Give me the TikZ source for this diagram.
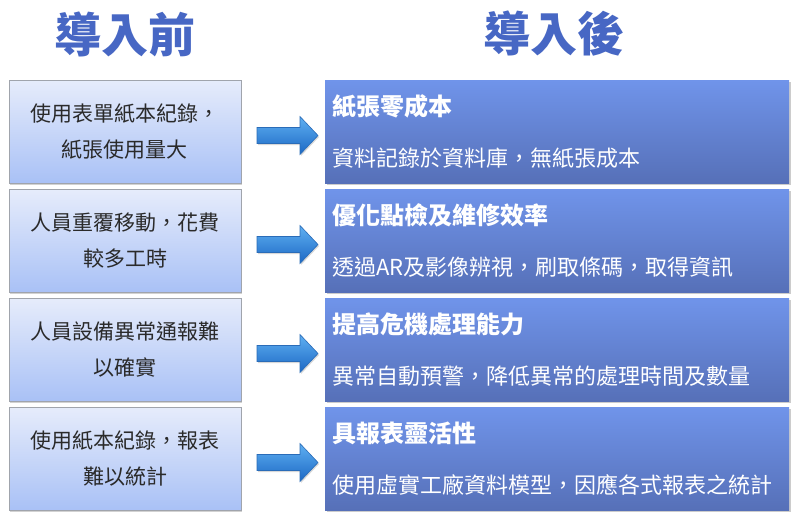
\documentclass[tikz,border=0pt]{standalone}
\usepackage{fontspec}
\newfontfamily\cjk[Script=CJK, Language=Chinese Traditional]{Noto Sans CJK TC}
\usetikzlibrary{shadows,calc}
\definecolor{lefttop}{HTML}{E6ECFB}
\definecolor{leftbot}{HTML}{A9C1F6}
\definecolor{leftline}{HTML}{A0A4AC}
\definecolor{righttop}{HTML}{7094EA}
\definecolor{rightbot}{HTML}{5670B8}
\definecolor{headblue}{HTML}{4767C4}
\definecolor{arrowtop}{HTML}{5FB0F2}
\definecolor{arrowbot}{HTML}{1C68C4}
\definecolor{arrowline}{HTML}{2A6CB8}
\definecolor{lefttext}{HTML}{2A2A2A}
\tikzset{
  leftbox/.style={rectangle, minimum width=232pt, minimum height=103pt, inner sep=0pt,
    top color=lefttop, bottom color=leftbot, draw=leftline, line width=0.6pt,
    drop shadow={shadow xshift=1pt, shadow yshift=-2pt, opacity=0.35},
    align=center, font=\cjk\fontsize{21}{36}\selectfont, text=lefttext},
  rightbox/.style={rectangle, minimum width=464pt, minimum height=103pt, inner sep=0pt,
    top color=righttop, bottom color=rightbot, draw=none,
    drop shadow={shadow xshift=1.5pt, shadow yshift=-2pt, opacity=0.4}},
  rtitle/.style={anchor=west, inner sep=0pt, text=white, font=\cjk\bfseries\fontsize{24}{27}\selectfont},
  rsub/.style={anchor=west, inner sep=0pt, text=white, font=\cjk\fontsize{22}{25}\selectfont},
  headtxt/.style={inner sep=0pt, text=headblue, font=\cjk\bfseries\fontsize{47}{50}\selectfont},
  arrowshape/.style={top color=arrowtop, bottom color=arrowbot, draw=arrowline, line width=0.6pt,
    drop shadow={shadow xshift=1pt, shadow yshift=-1.5pt, opacity=0.3}}
}
\begin{document}
\begin{tikzpicture}[x=1pt,y=-1pt]
\useasboundingbox[fill=white] (0,0) rectangle (800,531);
% headings
\node[headtxt] (h1) at (125,34) {導入前};
\node[headtxt] (h2) at (554,34) {導入後};
% rows
\foreach \i/\cy/\lt/\rt/\rs in {
  1/131.5/{使用表單紙本紀錄，\\紙張使用量大}/{紙張零成本}/{資料記錄於資料庫，無紙張成本},
  2/240.5/{人員重覆移動，花費\\較多工時}/{優化點檢及維修效率}/{透過AR及影像辨視，刷取條碼，取得資訊},
  3/349.5/{人員設備異常通報難\\以確實}/{提高危機處理能力}/{異常自動預警，降低異常的處理時間及數量},
  4/458.5/{使用紙本紀錄，報表\\難以統計}/{具報表靈活性}/{使用虛實工廠資料模型，因應各式報表之統計}}{
  \node[leftbox] (L\i) at (125,\cy) {\lt};
  \node[rightbox] (R\i) at (557,\cy) {};
  \node[rtitle] (T\i) at ($(R\i.north west)+(7,27)$) {\rt};
  \node[rsub] (S\i) at ($(R\i.north west)+(7,78)$) {\rs};
  \coordinate (A\i) at (257,\cy+4);
  \path[arrowshape] ($(A\i)+(0,-8)$) -- ++(43,0) -- ++(0,-11) -- ++(18,19) -- ++(-18,19) -- ++(0,-11) -- ++(-43,0) -- cycle;
}
\end{tikzpicture}
\end{document}
